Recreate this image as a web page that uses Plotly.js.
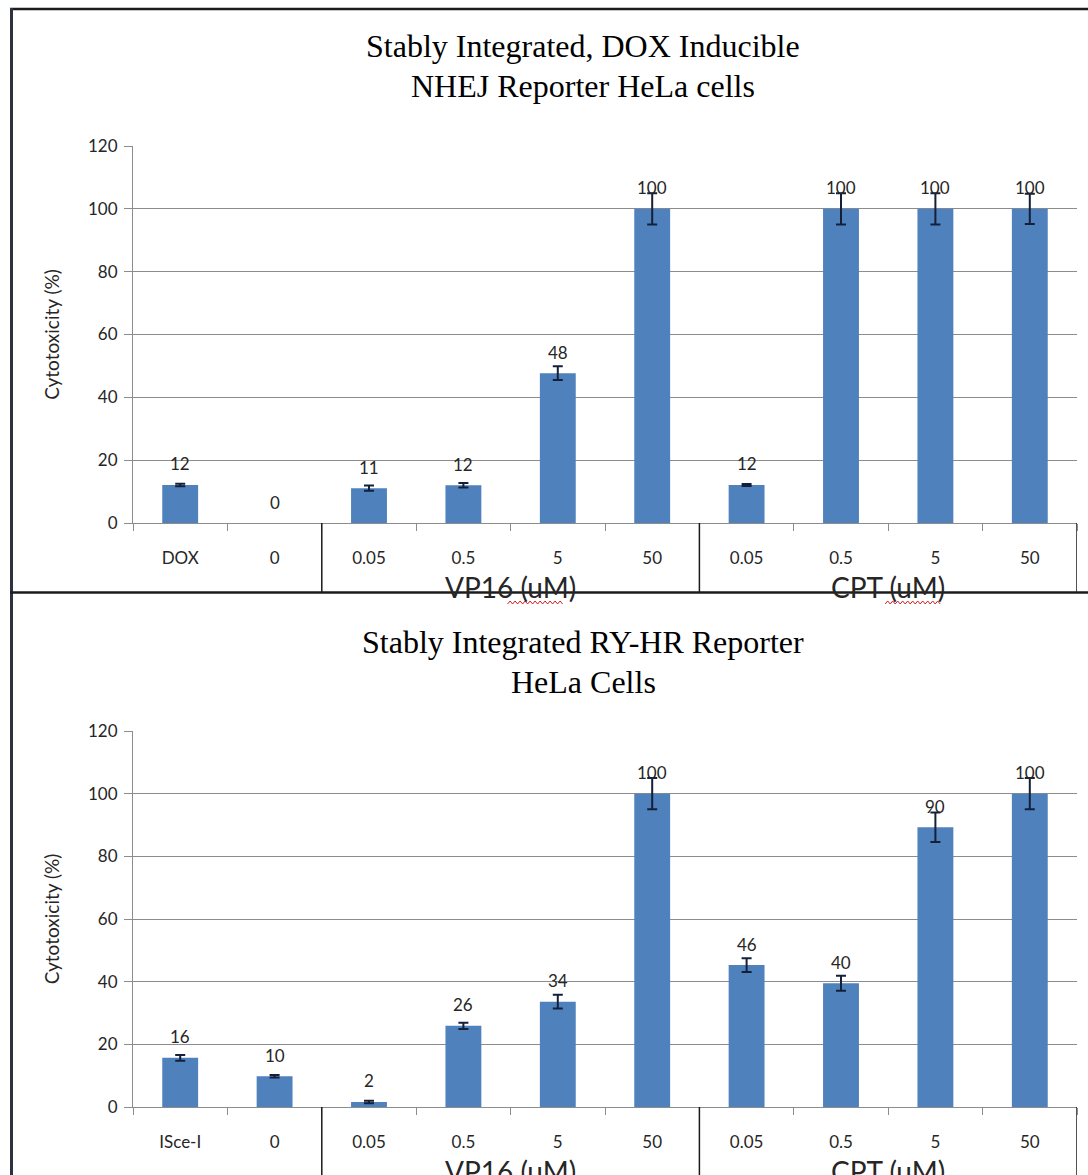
<!DOCTYPE html>
<html>
<head>
<meta charset="utf-8">
<script src="https://cdn.plot.ly/plotly-3.0.1.min.js"></script>
<style>
  html, body { margin: 0; padding: 0; background: #ffffff; }
  #chart { width: 1088px; height: 1175px; }
</style>
</head>
<body>
<div id="chart"></div>
<script>
// ---------------- data ----------------
const titleTop = ['Stably Integrated, DOX Inducible', 'NHEJ Reporter HeLa cells'];
const titleBottom = ['Stably Integrated RY-HR Reporter', 'HeLa Cells'];
const yTitle = 'Cytotoxicity (%)';

const categoriesTop = ['DOX', '0', '0.05', '0.5', '5', '50', '0.05', '0.5', '5', '50'];
const valuesTop = [12.1, 0, 11.1, 12.0, 47.7, 100, 12.1, 100, 100, 100];
const errorsTop = [0.4, 0, 0.8, 0.7, 2.2, 5.0, 0.3, 5.0, 5.0, 4.8];
const labelsTop = ['12', '0', '11', '12', '48', '100', '12', '100', '100', '100'];

const categoriesBottom = ['ISce-I', '0', '0.05', '0.5', '5', '50', '0.05', '0.5', '5', '50'];
const valuesBottom = [15.7, 9.8, 1.6, 25.9, 33.6, 100, 45.3, 39.5, 89.3, 100];
const errorsBottom = [0.9, 0.4, 0.4, 1.0, 2.2, 5.0, 2.2, 2.4, 4.7, 5.0];
const labelsBottom = ['16', '10', '2', '26', '34', '100', '46', '40', '90', '100'];

const groupLabels = ['', 'VP16 (uM)', 'CPT (uM)'];
const groupStarts = [0, 2, 6];
const groupEnds = [1, 5, 9];

const yTicks = [0, 20, 40, 60, 80, 100, 120];

// ---------------- layout helpers ----------------
const W = 1088, H = 1175;
const px = v => v / W;
const py = v => 1 - v / H;

const BAR = '#4F81BD';
const GRID = '#8c8c8c';
const TXT = '#262626';
const LABEL_FONT = 'Lato, "Open Sans", sans-serif';
const SERIF = '"Liberation Serif", "Times New Roman", serif';

const xDomain = [px(133), px(1077)];
const panels = [
  { cats: categoriesTop, vals: valuesTop, errs: errorsTop, labels: labelsTop, title: titleTop,
    xa: 'x', ya: 'y', yDom: [py(523), py(146)], axisPx: 523, bottomPx: 592.5, titlePx: [46, 86],
    groupPx: 587 },
  { cats: categoriesBottom, vals: valuesBottom, errs: errorsBottom, labels: labelsBottom, title: titleBottom,
    xa: 'x2', ya: 'y2', yDom: [py(1107), py(731)], axisPx: 1107, bottomPx: 1180, titlePx: [642, 682],
    groupPx: 1171 }
];

const data = [];
const annotations = [];
const shapes = [];
const layout = {
  width: W, height: H,
  margin: { l: 0, r: 0, t: 0, b: 0, pad: 0 },
  paper_bgcolor: '#ffffff', plot_bgcolor: '#ffffff',
  showlegend: false,
  bargap: 0.62,
  font: { family: LABEL_FONT, color: TXT }
};

panels.forEach((p, k) => {
  const idx = p.cats.map((_, i) => i);
  data.push({
    type: 'bar', x: idx, y: p.vals, xaxis: p.xa, yaxis: p.ya,
    width: 0.38,
    marker: { color: BAR, line: { width: 0 } },
    error_y: { type: 'data', array: p.errs.map(e => (e > 0 ? e : NaN)), visible: true,
               color: '#14203a', thickness: 2, width: 5 },
    hoverinfo: 'x+y'
  });

  const xKey = k === 0 ? 'xaxis' : 'xaxis2';
  const yKey = k === 0 ? 'yaxis' : 'yaxis2';
  layout[xKey] = {
    domain: xDomain, anchor: p.ya,
    range: [-0.5, p.cats.length - 0.5],
    tickmode: 'array', tickvals: idx, ticktext: p.cats,
    ticks: '', showgrid: false, zeroline: false,
    showline: true, linecolor: GRID, linewidth: 1,
    ticklabelstandoff: 20,
    tickfont: { family: LABEL_FONT, size: 17, color: TXT },
    minor: { ticks: 'outside', tick0: -0.5, dtick: 1, ticklen: 7, tickcolor: GRID, tickwidth: 1, showgrid: false },
    fixedrange: true
  };
  layout[yKey] = {
    domain: p.yDom, anchor: p.xa,
    range: [0, 120], tickmode: 'array', tickvals: yTicks,
    showgrid: true, gridcolor: GRID, gridwidth: 1,
    zeroline: false, showline: true, linecolor: GRID, linewidth: 1,
    ticks: 'outside', ticklen: 8, tickcolor: GRID,
    ticklabelstandoff: 3,
    tickfont: { family: LABEL_FONT, size: 17, color: TXT },
    title: { text: yTitle, font: { family: LABEL_FONT, size: 19, color: TXT }, standoff: 23 },
    fixedrange: true
  };

  // data labels above bars
  p.vals.forEach((v, i) => {
    annotations.push({
      xref: p.xa, yref: p.ya, x: i, y: v, yshift: 21,
      text: p.labels[i], showarrow: false, xanchor: 'center', yanchor: 'middle',
      font: { family: LABEL_FONT, size: 17, color: TXT }
    });
  });

  // chart titles
  p.title.forEach((t, j) => {
    annotations.push({
      xref: 'paper', yref: 'paper', x: px(583), y: py(p.titlePx[j]),
      text: t, showarrow: false, xanchor: 'center', yanchor: 'middle',
      font: { family: SERIF, size: 32, color: '#000000' }
    });
  });

  // group labels and dividers
  groupLabels.forEach((g, j) => {
    if (g) {
      annotations.push({
        xref: p.xa, yref: 'paper', x: (groupStarts[j] + groupEnds[j]) / 2, y: py(p.groupPx),
        text: g, showarrow: false, xanchor: 'center', yanchor: 'middle',
        font: { family: LABEL_FONT, size: 28, color: TXT }
      });
    }
    if (groupStarts[j] > 0) {
      shapes.push({ type: 'line', xref: p.xa, yref: 'paper',
        x0: groupStarts[j] - 0.5, x1: groupStarts[j] - 0.5,
        y0: py(p.axisPx), y1: py(p.bottomPx), line: { color: '#1a1a1a', width: 1.5 } });
    }
  });
  shapes.push({ type: 'line', xref: p.xa, yref: 'paper',
    x0: groupEnds[groupEnds.length - 1] + 0.5, x1: groupEnds[groupEnds.length - 1] + 0.5,
    y0: py(p.axisPx), y1: py(p.bottomPx), line: { color: '#1a1a1a', width: 1.5 } });
});

// spell-check squiggles under "uM" of the top panel's group labels (decoration)
[3.5, 7.5].forEach(c => {
  const cpx = 133 + (c + 0.5) * (1077 - 133) / 10;
  let path = '';
  for (let s = 0, xx = cpx - 3; xx <= cpx + 54; xx += 2.5, s++) {
    const yy = s % 2 === 0 ? 604 : 601;
    path += (s === 0 ? 'M ' : ' L ') + px(xx).toFixed(5) + ' ' + py(yy).toFixed(5);
  }
  shapes.push({ type: 'path', xref: 'paper', yref: 'paper', path: path, line: { color: '#d02020', width: 1 } });
});

// outer frame lines of the screenshot
shapes.push({ type: 'line', xref: 'paper', yref: 'paper', x0: px(10), x1: 1, y0: py(9), y1: py(9),
  line: { color: '#1c1c1c', width: 2.5 } });
shapes.push({ type: 'line', xref: 'paper', yref: 'paper', x0: px(11.5), x1: px(11.5), y0: py(8), y1: 0,
  line: { color: '#2c3240', width: 3 } });
shapes.push({ type: 'line', xref: 'paper', yref: 'paper', x0: px(10), x1: 1, y0: py(592.5), y1: py(592.5),
  line: { color: '#1c1c1c', width: 2.5 } });

layout.annotations = annotations;
layout.shapes = shapes;

Plotly.newPlot('chart', data, layout, { displayModeBar: false, staticPlot: true });
</script>
</body>
</html>
